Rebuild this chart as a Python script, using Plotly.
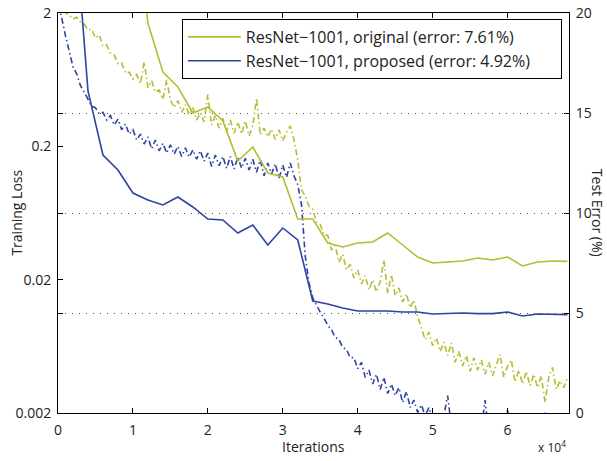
import plotly.graph_objects as go

# ---------------- data ----------------
# training loss sampled every 500 iterations (0 ... 68000)
loss_step = 500
loss_original = [
    2.6, 2.25, 2.0, 1.93, 1.80, 1.86, 1.71, 1.65, 1.49, 1.51,
    1.30, 1.37, 1.13, 1.15, 1.00, 0.97, 0.83, 0.84, 0.71, 0.72,
    0.64, 0.69, 0.59, 0.86, 0.55, 0.62, 0.51, 0.53, 0.45, 0.63,
    0.446, 0.39, 0.44, 0.36, 0.41, 0.345, 0.39, 0.315, 0.356, 0.305,
    0.49, 0.289, 0.34, 0.274, 0.325, 0.26, 0.315, 0.251, 0.305, 0.248,
    0.31, 0.24, 0.284, 0.46, 0.243, 0.274, 0.235, 0.27, 0.226, 0.266,
    0.22, 0.255, 0.284, 0.223, 0.158, 0.094, 0.085, 0.071, 0.067, 0.054,
    0.052, 0.043, 0.043, 0.0334, 0.036, 0.027, 0.031, 0.0237, 0.026, 0.0206,
    0.0237, 0.0186, 0.0214, 0.0168, 0.0199, 0.0162, 0.0193, 0.0281, 0.0157, 0.0218,
    0.0152, 0.0173, 0.0136, 0.0157, 0.0123, 0.0141, 0.0106, 0.0087, 0.0071, 0.0081,
    0.0064, 0.0073, 0.0058, 0.0068, 0.0054, 0.0067, 0.0048, 0.0058, 0.0045, 0.0054,
    0.0041, 0.0052, 0.0042, 0.0050, 0.0039, 0.0048, 0.0038, 0.0046, 0.0055, 0.0037,
    0.0045, 0.0050, 0.0034, 0.0042, 0.0033, 0.0041, 0.0032, 0.0039, 0.0031, 0.0038,
    0.0024, 0.0037, 0.0044, 0.0030, 0.0035, 0.0031, 0.0037,
]
loss_proposed = [
    2.3, 1.83, 1.35, 1.02, 0.79, 0.70, 0.57, 0.51, 0.446, 0.40,
    0.39, 0.35, 0.36, 0.315, 0.34, 0.289, 0.32, 0.266, 0.294, 0.247,
    0.266, 0.223, 0.247, 0.208, 0.235, 0.192, 0.223, 0.185, 0.211, 0.178,
    0.205, 0.175, 0.20, 0.168, 0.195, 0.166, 0.188, 0.16, 0.185, 0.155,
    0.178, 0.141, 0.172, 0.143, 0.168, 0.137, 0.168, 0.135, 0.166, 0.137,
    0.163, 0.133, 0.16, 0.128, 0.158, 0.12, 0.15, 0.124, 0.148, 0.115,
    0.145, 0.117, 0.15, 0.12, 0.103, 0.073, 0.030, 0.0189, 0.0146, 0.0128,
    0.0114, 0.0103, 0.0091, 0.0084, 0.0074, 0.0071, 0.0062, 0.0060, 0.0052, 0.0052,
    0.0043, 0.0048, 0.0037, 0.0042, 0.0033, 0.0039, 0.0030, 0.0037, 0.0028, 0.0033,
    0.0027, 0.0031, 0.0024, 0.0029, 0.0022, 0.0025, 0.00202, 0.0023, 0.0019, 0.0022,
    0.0018, 0.00198, 0.0016, 0.0019, 0.0027, 0.0016, 0.0015, 0.0017, 0.0014, 0.00198,
    0.0014, 0.0016, 0.0014, 0.0015, 0.0025, 0.0014, 0.0015, 0.0013, 0.0015, 0.0013,
    0.0021, 0.0013, 0.0014, 0.0013, 0.0014, 0.0012, 0.0014, 0.0012, 0.0013, 0.0012,
    0.00203, 0.0012, 0.0013, 0.0011, 0.0013, 0.0011, 0.0013,
]
loss_iters = [i * loss_step for i in range(len(loss_original))]

# test error (%)
err_iters_original = [10000, 12000, 14000, 16000, 18000, 20000, 22000, 24000, 26000, 28000,
                      30000, 32000, 34000, 36000, 38000, 40000, 42000, 44000, 46000, 48000,
                      50000, 52000, 54000, 56000, 58000, 60000, 62000, 64000, 66000, 68000]
err_original = [26.0, 19.5, 17.05, 16.3, 15.0, 15.3, 14.6, 12.6, 13.3, 12.0,
                11.8, 9.7, 9.7, 8.5, 8.3, 8.5, 8.55, 9.0, 8.4, 7.8,
                7.5, 7.55, 7.6, 7.75, 7.65, 7.8, 7.35, 7.55, 7.6, 7.58]
err_iters_proposed = [2000, 4000, 6000, 8000, 10000, 12000, 14000, 16000, 18000, 20000,
                      22000, 24000, 26000, 28000, 30000, 32000, 34000, 36000, 38000, 40000,
                      42000, 44000, 46000, 48000, 50000, 52000, 54000, 56000, 58000, 60000,
                      62000, 64000, 66000, 68000]
err_proposed = [25.8, 16.1, 12.9, 12.15, 11.0, 10.65, 10.4, 10.8, 10.3, 9.7,
                9.65, 9.0, 9.4, 8.4, 9.25, 8.65, 5.6, 5.45, 5.25, 5.1,
                5.1, 5.1, 5.05, 5.05, 4.95, 4.97, 5.0, 4.97, 4.97, 5.05,
                4.85, 4.95, 4.95, 4.92]

legend_labels = ["ResNet\u22121001, original (error: 7.61%)",
                 "ResNet\u22121001, proposed (error: 4.92%)"]
x_tick_vals = [0, 10000, 20000, 30000, 40000, 50000, 60000]
x_tick_text = ["0", "1", "2", "3", "4", "5", "6"]
loss_tick_vals = [0.002, 0.02, 0.2, 2]
loss_tick_text = ["0.002", "0.02", "0.2", "2"]
err_tick_vals = [0, 5, 10, 15, 20]

# ---------------- style ----------------
YELLOW = "#B7BC32"
BLUE = "#2D44A1"
FONT = "Open Sans"
TXT = "#222"
DASHDOT = "6px,3px,1.5px,3px"
PAD = "\u00a0" * 6

fig = go.Figure()

fig.add_trace(go.Scatter(x=loss_iters, y=loss_original, mode="lines",
                         line=dict(color=YELLOW, width=1.6, dash=DASHDOT),
                         showlegend=False, yaxis="y", hoverinfo="skip"))
fig.add_trace(go.Scatter(x=loss_iters, y=loss_proposed, mode="lines",
                         line=dict(color=BLUE, width=1.6, dash=DASHDOT),
                         showlegend=False, yaxis="y", hoverinfo="skip"))
fig.add_trace(go.Scatter(x=err_iters_original, y=err_original, mode="lines",
                         line=dict(color=YELLOW, width=1.6),
                         name=legend_labels[0] + PAD, yaxis="y2"))
fig.add_trace(go.Scatter(x=err_iters_proposed, y=err_proposed, mode="lines",
                         line=dict(color=BLUE, width=1.6),
                         name=legend_labels[1] + PAD, yaxis="y2"))

axis_common = dict(showline=True, linecolor="black", linewidth=1,
                   ticks="inside", ticklen=5, tickcolor="black", tickwidth=1,
                   tickfont=dict(family=FONT, size=14, color=TXT),
                   zeroline=False, automargin=False)

fig.update_layout(
    width=607, height=461,
    margin=dict(l=58, r=38, t=13, b=48, autoexpand=False),
    paper_bgcolor="white", plot_bgcolor="white",
    font=dict(family=FONT, size=14, color=TXT),
    xaxis=dict(range=[0, 68200], tickvals=x_tick_vals, ticktext=x_tick_text,
               mirror="ticks", showgrid=False, ticklabelstandoff=4, **axis_common),
    yaxis=dict(type="log", range=[-2.69897, 0.30103],
               tickvals=loss_tick_vals, ticktext=loss_tick_text,
               showgrid=False, ticklabelstandoff=3, **axis_common),
    yaxis2=dict(overlaying="y", side="right", range=[0, 20],
                tickvals=err_tick_vals, mirror="ticks",
                showgrid=True, gridcolor="#555", gridwidth=1,
                griddash="1px,6px", ticklabelstandoff=3, **axis_common),
    legend=dict(x=0.986, y=0.985, xanchor="right", yanchor="top",
                bgcolor="white", bordercolor="black", borderwidth=1,
                font=dict(family=FONT, size=16, color=TXT),
                tracegroupgap=0, itemwidth=53),
    annotations=[
        dict(text="Training Loss", xref="paper", yref="paper",
             x=-0.083, y=0.5, xanchor="center", yanchor="middle",
             textangle=-90, showarrow=False, font=dict(family=FONT, size=14, color=TXT)),
        dict(text="Test Error (%)", xref="paper", yref="paper",
             x=1.057, y=0.5, xanchor="center", yanchor="middle",
             textangle=90, showarrow=False, font=dict(family=FONT, size=14, color=TXT)),
        dict(text="Iterations", xref="paper", yref="paper",
             x=0.5, y=-0.0825, xanchor="center", yanchor="middle",
             showarrow=False, font=dict(family=FONT, size=14, color=TXT)),
        dict(text="x 10<sup>4</sup>", xref="paper", yref="paper",
             x=0.998, y=-0.085, xanchor="right", yanchor="middle",
             showarrow=False, font=dict(family=FONT, size=12, color=TXT)),
    ],
)

fig.write_html("out.html", config={"displayModeBar": False},
               post_script="document.body.style.margin='0';")
